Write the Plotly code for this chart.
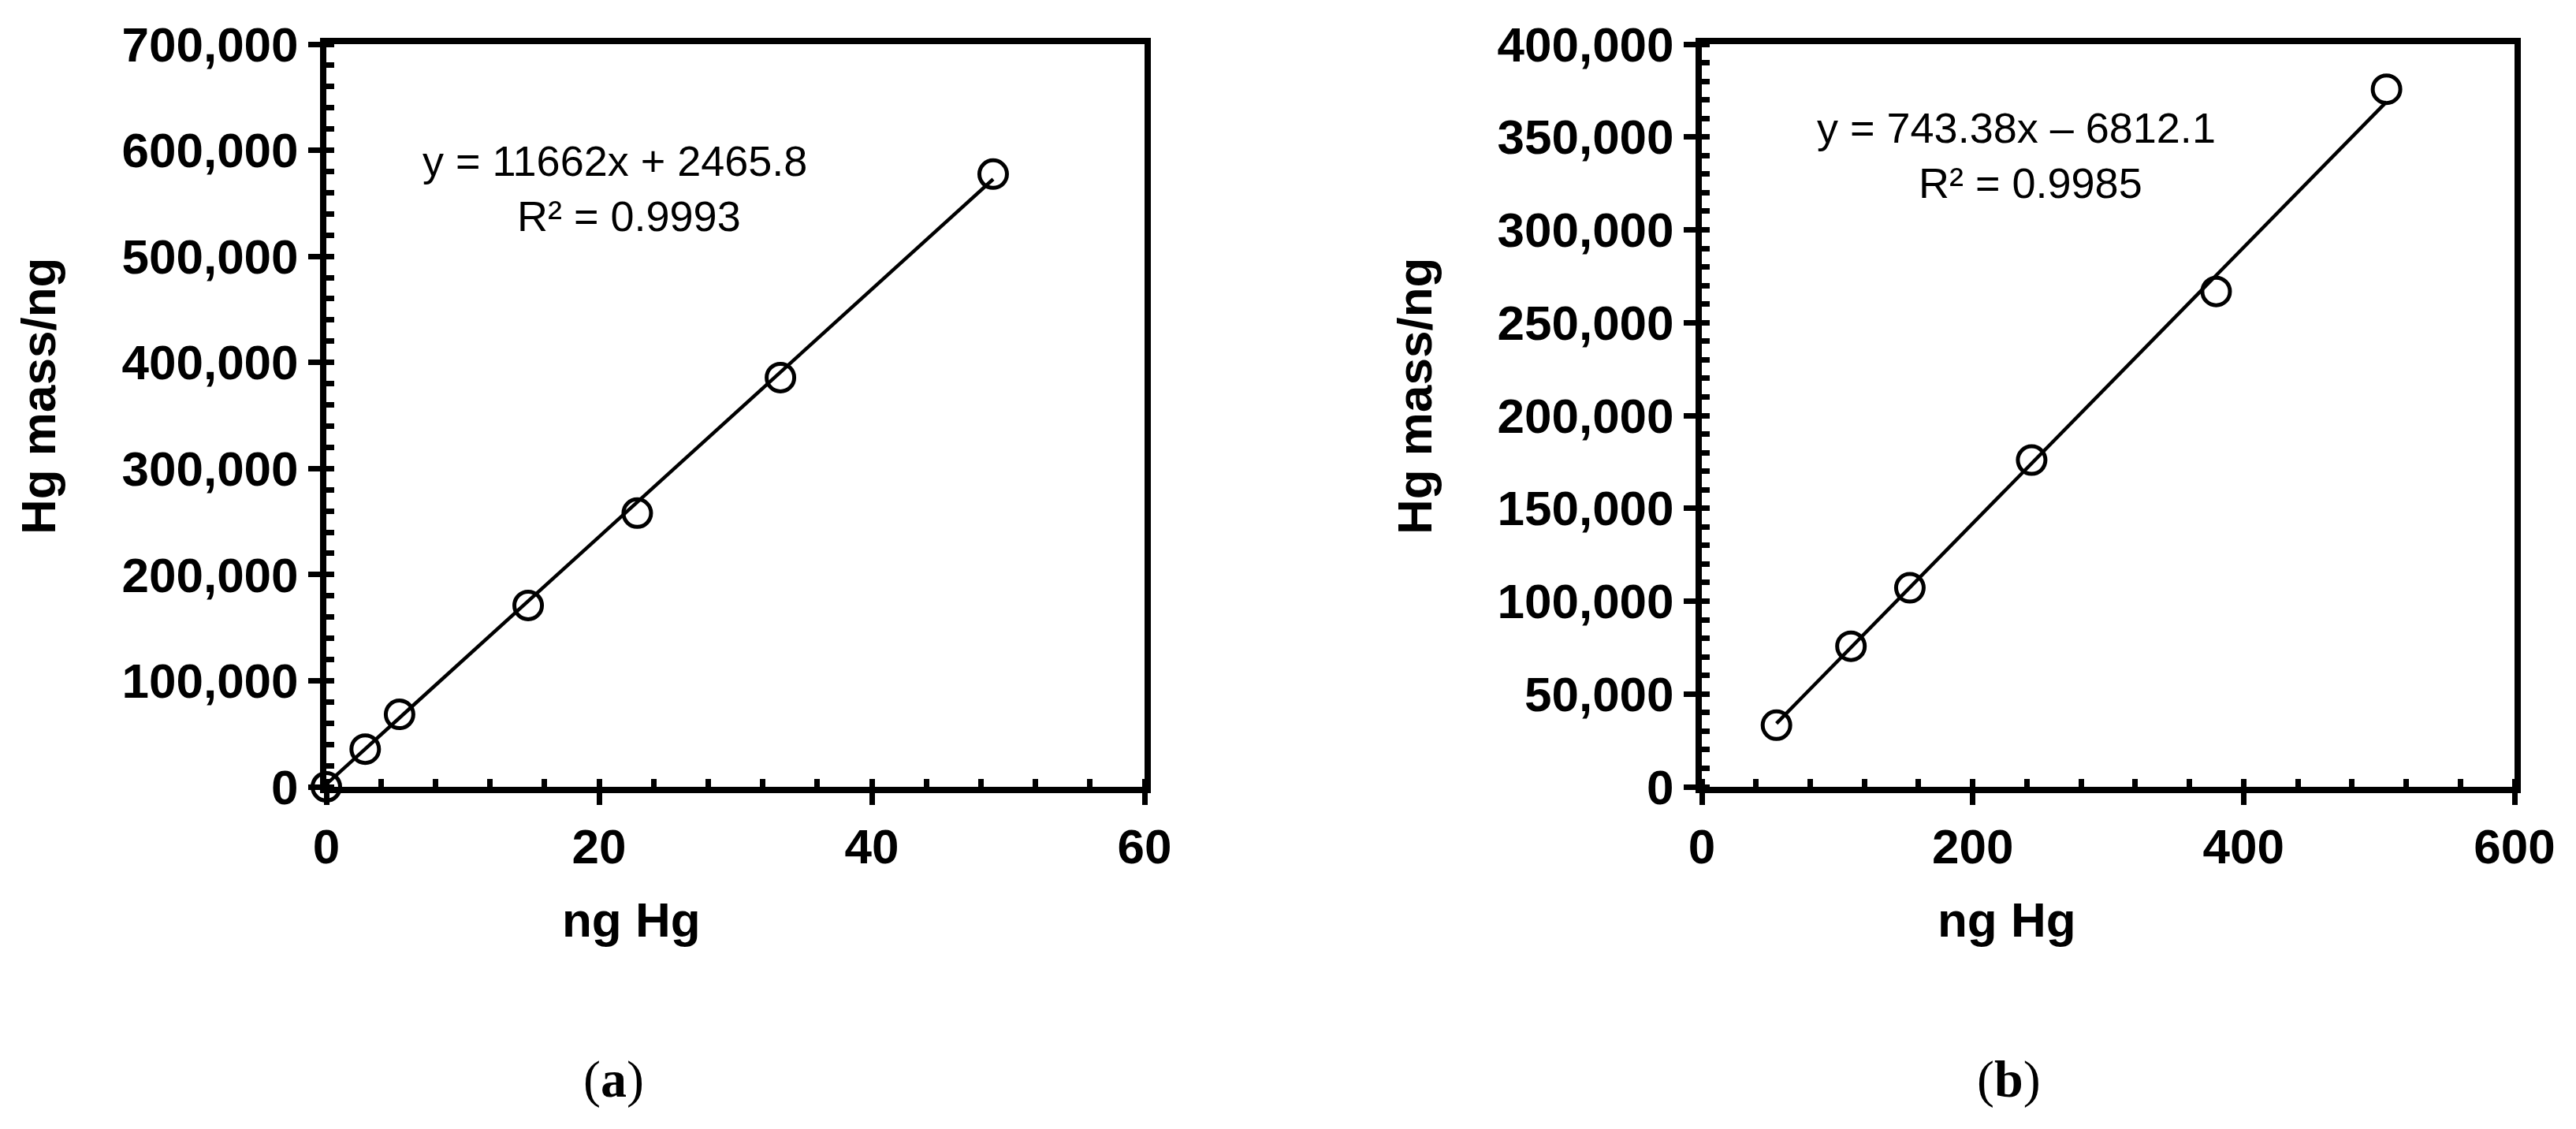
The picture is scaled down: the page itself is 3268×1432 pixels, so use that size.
"""Calibration curves for Hg mass, panels (a) and (b)."""

import plotly.graph_objects as go

W, H = 3268, 1432
PAGE_MARGIN = 8  # default body margin of the written html page

# panel (a)
A_X = [0, 2.85, 5.37, 14.8, 22.8, 33.3, 48.9]
A_Y = [0, 35500, 68300, 171000, 258000, 385700, 577500]
A_SLOPE, A_INTERCEPT = 11662, 2465.8
A_EQ = "y = 11662x + 2465.8"
A_R2 = "R² = 0.9993"

# panel (b)
B_X = [55.1, 110.1, 153.6, 243.5, 379.7, 505.5]
B_Y = [33200, 75700, 107200, 176000, 266800, 375700]
B_SLOPE, B_INTERCEPT = 743.38, -6812.1
B_EQ = "y = 743.38x – 6812.1"
B_R2 = "R² = 0.9985"

X_TITLE = "ng Hg"
Y_TITLE = "Hg mass/ng"

TICK_FONT = dict(family="Liberation Sans", size=62, color="black", weight="bold")
EQ_FONT = dict(family="Liberation Sans", size=54, color="black")
PANEL_FONT = dict(family="Liberation Serif", size=66, color="black")


def px_x(p):
    return (p - PAGE_MARGIN) / W


def px_y(p):
    return 1 - (p - PAGE_MARGIN) / H


def trend(xs, slope, intercept):
    x0, x1 = min(xs), max(xs)
    return [x0, x1], [slope * x0 + intercept, slope * x1 + intercept]


fig = go.Figure()

panels = [
    ("", "3", A_X, A_Y, A_SLOPE, A_INTERCEPT),
    ("2", "4", B_X, B_Y, B_SLOPE, B_INTERCEPT),
]
for main, over, xs, ys, slope, intercept in panels:
    tx, ty = trend(xs, slope, intercept)
    fig.add_trace(go.Scatter(
        x=tx, y=ty, mode="lines", xaxis="x" + over, yaxis="y" + over,
        line=dict(color="black", width=4.5), showlegend=False,
    ))
    fig.add_trace(go.Scatter(
        x=xs, y=ys, mode="markers", xaxis="x" + main, yaxis="y" + main,
        marker=dict(symbol="circle-open", size=35, color="black",
                    line=dict(color="black", width=5)),
        cliponaxis=False, showlegend=False,
    ))

y_dom = [px_y(998), px_y(56)]
axis_common = dict(
    showgrid=False, zeroline=False, showline=True, linecolor="black",
    linewidth=8, mirror=True, ticks="outside", ticklen=15, tickwidth=7,
    tickcolor="black", tickfont=TICK_FONT, automargin=False,
)
inner_common = dict(
    showgrid=False, zeroline=False, showline=False, ticks="inside",
    ticklen=10, tickwidth=7, tickcolor="black", showticklabels=False,
    automargin=False,
)


def minor(d):
    return dict(ticks="inside", ticklen=10, tickwidth=7, tickcolor="black", dtick=d)


layout_axes = dict(
    xaxis=dict(domain=[px_x(414), px_x(1452)], range=[0, 60], dtick=20,
               minor=minor(4), anchor="y", **axis_common),
    yaxis=dict(domain=y_dom, range=[0, 700000], dtick=100000, tickformat=",",
               minor=minor(20000), anchor="x", **axis_common),
    xaxis3=dict(overlaying="x", anchor="y", range=[0, 60], dtick=20, **inner_common),
    yaxis3=dict(overlaying="y", anchor="x", range=[0, 700000], dtick=100000,
                **inner_common),
    xaxis2=dict(domain=[px_x(2159), px_x(3190)], range=[0, 600], dtick=200,
                minor=minor(40), anchor="y2", **axis_common),
    yaxis2=dict(domain=y_dom, range=[0, 400000], dtick=50000, tickformat=",",
                minor=minor(10000), anchor="x2", **axis_common),
    xaxis4=dict(overlaying="x2", anchor="y2", range=[0, 600], dtick=200,
                **inner_common),
    yaxis4=dict(overlaying="y2", anchor="x2", range=[0, 400000], dtick=50000,
                **inner_common),
)

annotations = []


def note(text, x, y, font, xanchor="center", angle=0):
    annotations.append(dict(
        text=text, x=px_x(x), y=px_y(y), xref="paper", yref="paper",
        xanchor=xanchor, yanchor="middle", showarrow=False, font=font,
        textangle=angle,
    ))


# equations
note(A_EQ, 534, 204, EQ_FONT, xanchor="left")
note(A_R2, 654, 274, EQ_FONT, xanchor="left")
note(B_EQ, 2303, 162, EQ_FONT, xanchor="left")
note(B_R2, 2432, 232, EQ_FONT, xanchor="left")

# axis titles
title_font = dict(TICK_FONT)
note(X_TITLE, 801, 1166, title_font)
note(X_TITLE, 2546, 1166, title_font)
note(Y_TITLE, 49, 503, title_font, angle=-90)
note(Y_TITLE, 1795, 503, title_font, angle=-90)

# panel labels
note("(<b>a</b>)", 778, 1369, PANEL_FONT)
note("(<b>b</b>)", 2548, 1369, PANEL_FONT)

fig.update_layout(
    width=W, height=H, autosize=False,
    margin=dict(l=0, r=0, t=0, b=0, autoexpand=False),
    paper_bgcolor="white", plot_bgcolor="white",
    annotations=annotations, **layout_axes,
)

fig.write_html("out.html")
